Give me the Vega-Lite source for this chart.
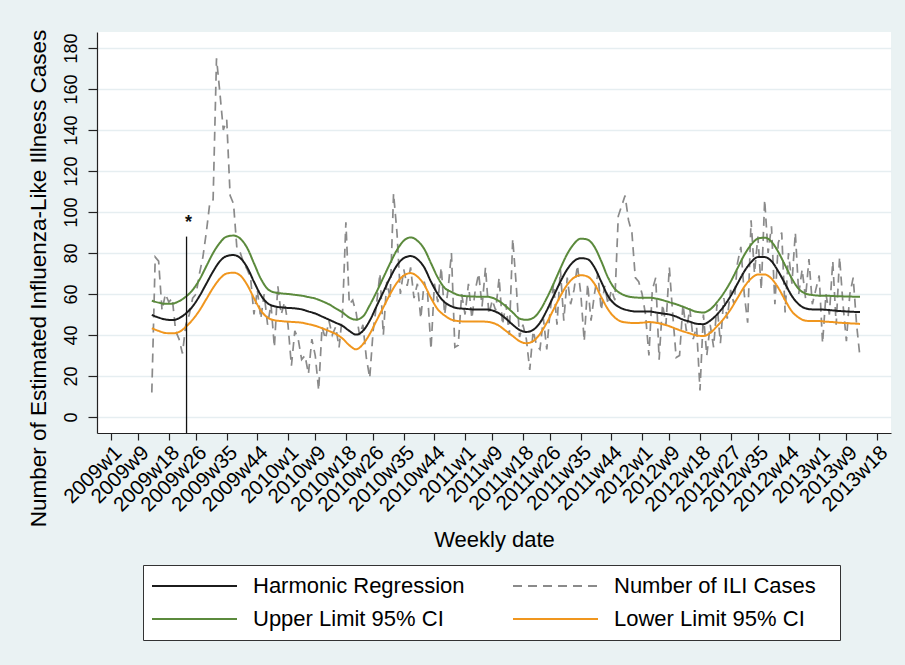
{
  "$schema": "https://vega.github.io/schema/vega-lite/v6.json",
  "width": 794,
  "height": 401,
  "autosize": {"type": "none"},
  "padding": {"left": 97, "top": 32, "right": 14, "bottom": 232},
  "background": "#eaf2f3",
  "data": {"values": [
    {"t":12,"ili":12,"fit":49.8,"up":56.7,"lo":43.3},{"t":13,"ili":78},
    {"t":14,"ili":76,"fit":48.5,"up":55.8,"lo":42},{"t":15,"ili":52},
    {"t":16,"ili":60,"fit":47.6,"up":55.2,"lo":41},{"t":17,"ili":56},
    {"t":18,"ili":58,"fit":47.3,"up":55.3,"lo":40.8},{"t":19,"ili":42},
    {"t":20,"ili":38,"fit":48.2,"up":56.5,"lo":41.5},{"t":21,"ili":31},
    {"t":22,"ili":45,"fit":50.5,"up":58.7,"lo":44},{"t":23,"ili":50},
    {"t":24,"ili":58,"fit":54,"up":62,"lo":47.5},{"t":25,"ili":60},
    {"t":26,"ili":70,"fit":59,"up":67,"lo":52},{"t":27,"ili":78},
    {"t":28,"ili":90,"fit":65,"up":73.5,"lo":57.5},{"t":29,"ili":104},
    {"t":30,"ili":106,"fit":71,"up":80,"lo":63},{"t":31,"ili":175},
    {"t":32,"ili":158,"fit":76,"up":85,"lo":67.5},{"t":33,"ili":140},
    {"t":34,"ili":145,"fit":78.5,"up":88,"lo":70},{"t":35,"ili":108},
    {"t":36,"ili":104,"fit":79,"up":88.5,"lo":70.4},{"t":37,"ili":82},
    {"t":38,"ili":80,"fit":77.5,"up":87,"lo":69},{"t":39,"ili":75},
    {"t":40,"ili":72,"fit":73,"up":82.5,"lo":64.5},{"t":41,"ili":68},
    {"t":42,"ili":50,"fit":66,"up":75,"lo":58},{"t":43,"ili":62},
    {"t":44,"ili":48,"fit":59.5,"up":67.5,"lo":52},{"t":45,"ili":60},
    {"t":46,"ili":45,"fit":55.5,"up":62.5,"lo":48.5},{"t":47,"ili":55},
    {"t":48,"ili":34,"fit":54,"up":60.8,"lo":47.2},{"t":49,"ili":64},
    {"t":50,"ili":50,"fit":53.5,"up":60.3,"lo":46.8},{"t":51,"ili":56},
    {"t":52,"ili":45,"fit":53.2,"up":60,"lo":46.5},{"t":53,"ili":25},
    {"t":54,"ili":42,"fit":53,"up":59.6,"lo":46.3},{"t":55,"ili":38},
    {"t":56,"ili":28,"fit":52.5,"up":59.2,"lo":46},{"t":57,"ili":30},
    {"t":58,"ili":21,"fit":51.5,"up":58.5,"lo":45.3},{"t":59,"ili":38},
    {"t":60,"ili":30,"fit":50.5,"up":57.8,"lo":44.5},{"t":61,"ili":13},
    {"t":62,"ili":44,"fit":49,"up":56.5,"lo":43.3},{"t":63,"ili":38},
    {"t":64,"ili":47,"fit":47.5,"up":55,"lo":42},{"t":65,"ili":40},
    {"t":66,"ili":44,"fit":46,"up":53,"lo":40.5},{"t":67,"ili":34},
    {"t":68,"ili":50,"fit":44.5,"up":51,"lo":38.3},{"t":69,"ili":95},
    {"t":70,"ili":55,"fit":42,"up":48.5,"lo":35},{"t":71,"ili":57},
    {"t":72,"ili":51,"fit":40.2,"up":47.5,"lo":33},{"t":73,"ili":40},
    {"t":74,"ili":45,"fit":42,"up":49,"lo":35.5},{"t":75,"ili":29},
    {"t":76,"ili":19,"fit":47,"up":54.5,"lo":40.5},{"t":77,"ili":42},
    {"t":78,"ili":55,"fit":54,"up":61,"lo":47},{"t":79,"ili":70},
    {"t":80,"ili":40,"fit":61,"up":68,"lo":53.5},{"t":81,"ili":66},
    {"t":82,"ili":58,"fit":68,"up":75,"lo":60},{"t":83,"ili":109},
    {"t":84,"ili":90,"fit":74,"up":81.5,"lo":65.5},{"t":85,"ili":60},
    {"t":86,"ili":72,"fit":77.5,"up":86,"lo":69},{"t":87,"ili":64},
    {"t":88,"ili":73,"fit":78.5,"up":87.6,"lo":70.2},{"t":89,"ili":58},
    {"t":90,"ili":65,"fit":77,"up":86,"lo":68.5},{"t":91,"ili":48},
    {"t":92,"ili":66,"fit":73,"up":82,"lo":64.5},{"t":93,"ili":60},
    {"t":94,"ili":33,"fit":66,"up":75,"lo":58},{"t":95,"ili":65},
    {"t":96,"ili":56,"fit":60,"up":68,"lo":52.5},{"t":97,"ili":73},
    {"t":98,"ili":50,"fit":56,"up":63,"lo":49.5},{"t":99,"ili":62},
    {"t":100,"ili":80,"fit":54,"up":61,"lo":47.5},{"t":101,"ili":34},
    {"t":102,"ili":35,"fit":53,"up":59.5,"lo":46.8},{"t":103,"ili":60},
    {"t":104,"ili":50,"fit":52.8,"up":59,"lo":46.6},{"t":105,"ili":65},
    {"t":106,"ili":48,"fit":52.5,"up":58.8,"lo":46.6},{"t":107,"ili":62},
    {"t":108,"ili":70,"fit":52.5,"up":58.7,"lo":46.6},{"t":109,"ili":54},
    {"t":110,"ili":73,"fit":52.5,"up":58.7,"lo":46.5},{"t":111,"ili":50},
    {"t":112,"ili":57,"fit":52,"up":58.2,"lo":46},{"t":113,"ili":52},
    {"t":114,"ili":68,"fit":50.5,"up":56.5,"lo":44.5},{"t":115,"ili":45},
    {"t":116,"ili":55,"fit":48,"up":54,"lo":42},{"t":117,"ili":40},
    {"t":118,"ili":87,"fit":45,"up":51,"lo":39.5},{"t":119,"ili":65},
    {"t":120,"ili":39,"fit":42.5,"up":48,"lo":37},{"t":121,"ili":45},
    {"t":122,"ili":38,"fit":41.5,"up":47.4,"lo":36},{"t":123,"ili":23},
    {"t":124,"ili":42,"fit":42.5,"up":48.3,"lo":37},{"t":125,"ili":35},
    {"t":126,"ili":33,"fit":46,"up":52,"lo":40.5},{"t":127,"ili":48},
    {"t":128,"ili":33,"fit":52,"up":58,"lo":46},{"t":129,"ili":52},
    {"t":130,"ili":65,"fit":59,"up":65,"lo":52.5},{"t":131,"ili":45},
    {"t":132,"ili":72,"fit":66,"up":72.5,"lo":59},{"t":133,"ili":47},
    {"t":134,"ili":68,"fit":72,"up":79.5,"lo":64.5},{"t":135,"ili":55},
    {"t":136,"ili":62,"fit":76,"up":84.5,"lo":68},{"t":137,"ili":74},
    {"t":138,"ili":60,"fit":77.5,"up":87,"lo":69.2},{"t":139,"ili":37},
    {"t":140,"ili":65,"fit":77,"up":86.5,"lo":68.5},{"t":141,"ili":47},
    {"t":142,"ili":60,"fit":73,"up":83,"lo":65},{"t":143,"ili":70},
    {"t":144,"ili":52,"fit":66,"up":76,"lo":58.5},{"t":145,"ili":64},
    {"t":146,"ili":55,"fit":59,"up":68,"lo":52.5},{"t":147,"ili":62},
    {"t":148,"ili":57,"fit":55,"up":62.5,"lo":48.5},{"t":149,"ili":98},
    {"t":150,"ili":103,"fit":53,"up":60,"lo":46.5},{"t":151,"ili":108},
    {"t":152,"ili":96,"fit":52,"up":58.8,"lo":46},{"t":153,"ili":90},
    {"t":154,"ili":68,"fit":51.5,"up":58.3,"lo":45.8},{"t":155,"ili":66},
    {"t":156,"ili":60,"fit":51.5,"up":58.2,"lo":46},{"t":157,"ili":50},
    {"t":158,"ili":30,"fit":51.5,"up":58.2,"lo":46.3},{"t":159,"ili":62},
    {"t":160,"ili":68,"fit":51,"up":57.8,"lo":46},{"t":161,"ili":28},
    {"t":162,"ili":55,"fit":50.5,"up":57,"lo":45.3},{"t":163,"ili":45},
    {"t":164,"ili":73,"fit":50,"up":56,"lo":44.3},{"t":165,"ili":50},
    {"t":166,"ili":29,"fit":49,"up":55,"lo":43},{"t":167,"ili":30},
    {"t":168,"ili":55,"fit":47.5,"up":53.8,"lo":41.8},{"t":169,"ili":42},
    {"t":170,"ili":53,"fit":46.5,"up":52.5,"lo":40.8},{"t":171,"ili":38},
    {"t":172,"ili":44,"fit":45.5,"up":51.3,"lo":39.8},{"t":173,"ili":13},
    {"t":174,"ili":50,"fit":45.3,"up":51,"lo":39.5},{"t":175,"ili":30},
    {"t":176,"ili":45,"fit":47,"up":52.5,"lo":41},{"t":177,"ili":34},
    {"t":178,"ili":55,"fit":50,"up":56,"lo":44.3},{"t":179,"ili":36},
    {"t":180,"ili":58,"fit":54,"up":60.5,"lo":48},{"t":181,"ili":48},
    {"t":182,"ili":62,"fit":59,"up":66,"lo":52.5},{"t":183,"ili":55},
    {"t":184,"ili":75,"fit":65,"up":72.5,"lo":58},{"t":185,"ili":83},
    {"t":186,"ili":60,"fit":71,"up":79,"lo":63.5},{"t":187,"ili":46},
    {"t":188,"ili":96,"fit":75.5,"up":84,"lo":67.5},{"t":189,"ili":70},
    {"t":190,"ili":88,"fit":78,"up":87,"lo":69.5},{"t":191,"ili":62},
    {"t":192,"ili":106,"fit":78,"up":87.5,"lo":69.5},{"t":193,"ili":80},
    {"t":194,"ili":93,"fit":76,"up":85.5,"lo":67.5},{"t":195,"ili":55},
    {"t":196,"ili":85,"fit":71,"up":80.5,"lo":63},{"t":197,"ili":90},
    {"t":198,"ili":51,"fit":65,"up":74,"lo":57},{"t":199,"ili":80},
    {"t":200,"ili":65,"fit":59,"up":67.5,"lo":51.5},{"t":201,"ili":90},
    {"t":202,"ili":60,"fit":55,"up":62.5,"lo":48.5},{"t":203,"ili":72},
    {"t":204,"ili":58,"fit":53,"up":60.2,"lo":47},{"t":205,"ili":77},
    {"t":206,"ili":55,"fit":52.5,"up":59.5,"lo":46.8},{"t":207,"ili":62},
    {"t":208,"ili":69,"fit":52.5,"up":59.2,"lo":46.8},{"t":209,"ili":36},
    {"t":210,"ili":60,"fit":52.3,"up":59.2,"lo":46.5},{"t":211,"ili":50},
    {"t":212,"ili":76,"fit":52,"up":59,"lo":46.3},{"t":213,"ili":45},
    {"t":214,"ili":78,"fit":51.7,"up":58.9,"lo":46},{"t":215,"ili":55},
    {"t":216,"ili":37,"fit":51.5,"up":58.8,"lo":45.8},{"t":217,"ili":60},
    {"t":218,"ili":68,"fit":51.3,"up":58.7,"lo":45.6},{"t":219,"ili":45},
    {"t":220,"ili":29,"fit":51.2,"up":58.6,"lo":45.4}
  ]},
  "encoding": {
    "x": {"field": "t", "type": "quantitative", "scale": {"domain": [-4.1, 229.1], "nice": false, "zero": false},
      "axis": {"values": [0,8,17,25,34,43,52,60,69,77,86,95,104,112,121,129,138,147,156,164,173,182,190,199,208,216,225],
        "labelExpr": "(floor(datum.value/52)+2009) + 'w' + (datum.value % 52 + 1)",
        "grid": false, "labelAngle": -45, "labelAlign": "right", "labelBaseline": "top", "labelPadding": 2,
        "labelFlush": false, "labelOverlap": false, "labelFontSize": 20.5, "tickSize": 7,
        "title": "Weekly date", "titleFontSize": 22, "titleBaseline": "alphabetic", "titleY": 113}},
    "y": {"field": "v", "type": "quantitative", "scale": {"domain": [-7.8, 187.8], "nice": false, "zero": false},
      "axis": {"values": [0,20,40,60,80,100,120,140,160,180], "grid": true,
        "labelAngle": 270, "labelAlign": "center", "labelBaseline": "alphabetic", "labelPadding": 12,
        "labelFontSize": 18, "labelOverlap": false, "tickSize": 9,
        "title": "Number of Estimated Influenza-Like Illness Cases", "titleFontSize": 22.5,
        "titleAngle": 270, "titleAlign": "center", "titleBaseline": "alphabetic", "titleX": -52, "titleY": 246}}
  },
  "layer": [
    {
      "transform": [
        {"fold": ["ili"], "as": ["series", "v"]},
        {"filter": "isValid(datum.v)"}
      ],
      "mark": {"type": "line", "strokeWidth": 1.7, "interpolate": "linear"},
      "encoding": {
        "color": {"field": "series", "type": "nominal",
          "scale": {"domain": ["fit", "ili", "up", "lo"], "range": ["#1c1c1c", "#8a8a8a", "#5b8a3c", "#f0961e"]},
          "legend": {"title": null, "labelExpr": "datum.label == 'fit' ? 'Harmonic Regression' : datum.label == 'ili' ? 'Number of ILI Cases\u2800' : datum.label == 'up' ? 'Upper Limit 95% CI' : 'Lower Limit 95% CI\u2800'"}},
        "strokeDash": {"field": "series", "type": "nominal",
          "scale": {"domain": ["fit", "ili", "up", "lo"], "range": [[1, 0], [9, 6], [1, 0], [1, 0]]},
          "legend": {"title": null, "labelExpr": "datum.label == 'fit' ? 'Harmonic Regression' : datum.label == 'ili' ? 'Number of ILI Cases\u2800' : datum.label == 'up' ? 'Upper Limit 95% CI' : 'Lower Limit 95% CI\u2800'"}}
      }
    },
    {
      "transform": [
        {"fold": ["fit", "up", "lo"], "as": ["series", "v"]},
        {"filter": "isValid(datum.v)"}
      ],
      "mark": {"type": "line", "strokeWidth": 2, "interpolate": "monotone"},
      "encoding": {
        "color": {"field": "series", "type": "nominal"},
        "strokeDash": {"field": "series", "type": "nominal"}
      }
    },
    {
      "data": {"values": [{"t": 22.2, "v": 88, "v2": -7.8}]},
      "mark": {"type": "rule", "color": "#111", "strokeWidth": 1.3},
      "encoding": {
        "y2": {"field": "v2"}
      }
    },
    {
      "data": {"values": [{"t": 22.8, "v": 92.4, "label": "*"}]},
      "mark": {"type": "text", "fontSize": 18, "fontWeight": "bold", "baseline": "alphabetic", "align": "center", "color": "#111"},
      "encoding": {
        "text": {"field": "label"}
      }
    }
  ],
  "config": {
    "font": "Liberation Sans",
    "view": {"fill": "white", "stroke": null},
    "axis": {
      "domainColor": "#222", "domainWidth": 1.2, "tickColor": "#222", "tickWidth": 1.2,
      "labelColor": "#000", "labelFont": "Liberation Sans", "titleColor": "#000", "titleFont": "Liberation Sans",
      "titleFontWeight": "normal", "gridColor": "#e6eef1", "gridWidth": 1.5, "labelOverlap": false
    },
    "legend": {
      "orient": "none", "legendX": 46, "legendY": 533, "columns": 2, "direction": "horizontal", "columnPadding": 47, "rowPadding": 7,
      "padding": 8, "symbolType": "stroke", "symbolSize": 7225, "symbolStrokeWidth": 2, "clipHeight": 26,
      "labelOffset": 15, "labelFontSize": 22, "labelFont": "Liberation Sans", "labelColor": "#000", "labelLimit": 600,
      "fillColor": "white", "strokeColor": "#333"
    }
  }
}
